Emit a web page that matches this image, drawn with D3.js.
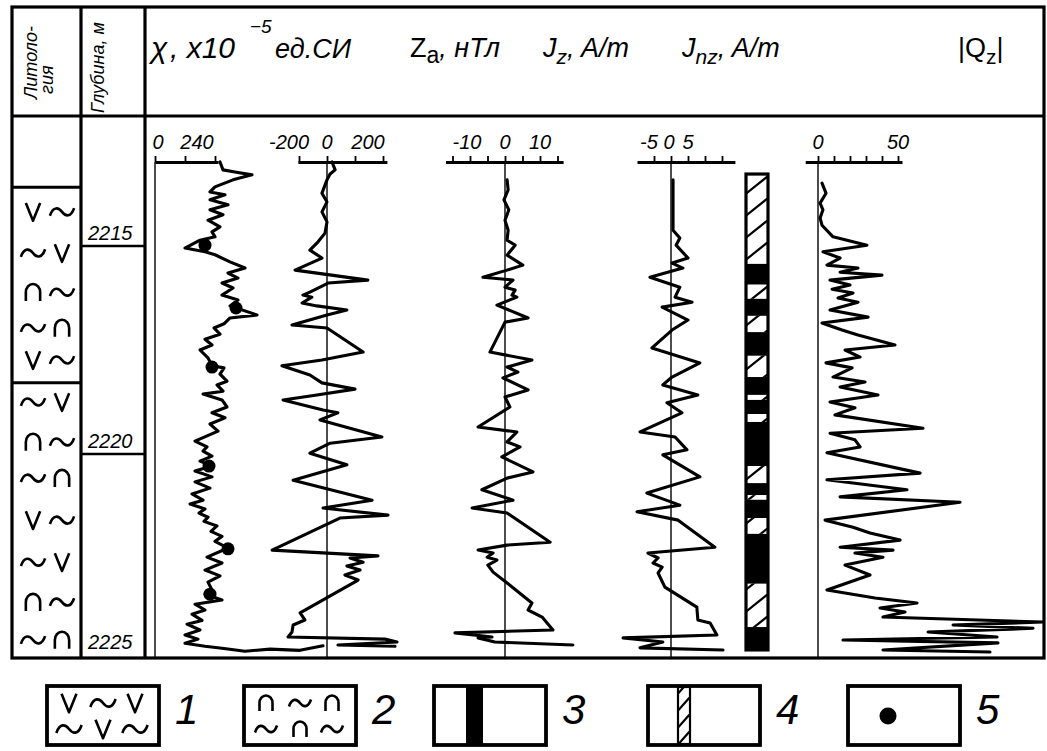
<!DOCTYPE html>
<html><head><meta charset="utf-8">
<script src="https://cdn.jsdelivr.net/npm/d3@7"></script>
<style>
body{margin:0;background:#fff}
svg{display:block}
text{font-family:"Liberation Sans",Arial,sans-serif;fill:#000}
</style>
</head><body>
<svg id="chart" width="1047" height="751"></svg>
<script>
// ---------------- DATA ----------------
// magnetic susceptibility χ, x10^-5 SI
const chiDepth = [2212.98,2213.17,2213.22,2213.29,2213.41,2213.58,2213.70,2213.77,2213.89,2214.01,2214.13,2214.25,2214.38,2214.54,2214.66,2214.78,2214.86,2215.05,2215.14,2215.21,2215.38,2215.53,2215.65,2215.77,2215.89,2216.01,2216.18,2216.30,2216.44,2216.66,2216.73,2216.87,2216.97,2217.12,2217.24,2217.38,2217.50,2217.69,2217.88,2217.93,2218.08,2218.25,2218.34,2218.49,2218.56,2218.70,2218.87,2219.01,2219.13,2219.28,2219.45,2219.69,2219.83,2219.93,2220.05,2220.17,2220.29,2220.41,2220.55,2220.67,2220.82,2220.96,2221.11,2221.20,2221.32,2221.42,2221.52,2221.62,2221.73,2221.86,2221.98,2222.10,2222.26,2222.48,2222.62,2222.79,2222.93,2223.08,2223.27,2223.37,2223.51,2223.61,2223.75,2223.85,2224.00,2224.09,2224.23,2224.35,2224.45,2224.55,2224.62,2224.67,2224.74,2224.69,2224.72,2224.61];
const chiValues = [260,272,320,388,312,240,220,280,220,292,220,272,212,260,228,240,180,120,200,240,300,360,292,332,268,312,268,332,300,408,300,276,236,260,200,228,180,212,228,276,260,288,248,272,192,268,288,228,280,220,252,160,208,192,228,180,228,160,228,160,220,148,192,140,200,176,212,196,248,224,268,240,292,208,268,200,260,212,228,200,268,160,200,148,188,128,180,120,172,120,200,268,360,460,580,672];
// sample points (legend 5)
const pointDepth = [2214.98,2216.49,2217.91,2220.29,2222.28,2223.37];
const pointChi = [200,324,228,216,292,220];

// Za, nT
const zaDepth = [2212.98,2213.17,2213.27,2213.41,2213.73,2213.94,2214.18,2214.42,2214.69,2214.90,2215.10,2215.29,2215.58,2215.82,2215.89,2216.11,2216.18,2216.23,2216.37,2216.44,2216.54,2216.66,2216.90,2216.97,2217.55,2217.74,2217.88,2218.10,2218.29,2218.44,2218.58,2218.70,2218.94,2219.01,2219.18,2219.59,2219.74,2219.98,2220.26,2220.63,2221.11,2221.30,2221.47,2221.54,2222.31,2222.45,2222.50,2222.60,2222.69,2222.79,2222.91,2223.03,2223.82,2223.99,2224.11,2224.28,2224.40,2224.45,2224.52,2224.59,2224.62];
const zaValues = [18,29,11,0,-18,0,-18,0,-7,-32,-61,-18,-114,146,4,-61,-86,-54,-89,-36,71,0,-125,0,129,-18,-161,-61,-18,100,-36,-157,-14,39,-25,196,11,-61,71,-121,161,-14,218,46,-196,182,82,129,71,118,64,111,-96,-79,-121,-125,-139,207,250,39,243];

// Jz, A/m
const jzDepth = [2213.41,2213.65,2213.89,2214.13,2214.38,2214.62,2214.86,2214.98,2215.22,2215.46,2215.58,2215.75,2215.82,2215.99,2216.06,2216.18,2216.23,2216.42,2216.73,2216.83,2217.55,2217.74,2217.91,2218.03,2218.17,2218.46,2218.63,2218.87,2219.35,2219.47,2219.71,2219.83,2220.07,2220.43,2220.58,2220.86,2221.11,2221.30,2221.42,2222.12,2222.19,2222.31,2222.38,2222.48,2222.55,2222.67,2222.84,2223.10,2223.58,2223.75,2223.92,2224.23,2224.30,2224.40,2224.42,2224.52,2224.59];
const jzValues = [0.6,0.9,-0.3,1.1,0,0.9,0.6,2.9,0.6,5.1,0.6,-6.3,2.3,0,2.9,2.0,3.4,-2.3,6.6,0,-4.3,7.7,0.6,3.7,-0.6,6.6,0,1.4,-7.7,3.4,0.6,4.3,-0.9,8.0,0.6,-6.6,2.3,-9.4,0.6,12.9,0.6,-7.7,-3.4,-5.1,-2.3,-4.9,-3.4,0.6,7.7,6.6,10.6,13.7,-14.3,-3.7,-7.7,-2.9,19.4];

// Jnz, A/m
const jnzDepth = [2213.41,2214.62,2214.81,2214.98,2215.29,2215.41,2215.53,2215.75,2215.99,2216.23,2216.35,2216.47,2216.78,2217.02,2217.45,2217.81,2218.15,2218.34,2218.58,2218.77,2219.01,2219.47,2219.59,2219.90,2220.02,2220.55,2220.94,2221.23,2221.39,2221.59,2222.24,2222.38,2222.50,2222.62,2222.72,2222.86,2223.20,2223.68,2223.99,2224.06,2224.35,2224.42,2224.52,2224.66,2224.71];
const jnzValues = [0.6,0.6,2.6,1.5,5.0,0.3,3.5,-6.2,2.6,1.2,6.2,-2.6,5.0,0.3,-5.6,8.5,0.3,-2.4,7.9,-1.2,3.2,-9.1,1.2,4.7,-2.4,8.5,-7.1,2.6,-10,2.1,12.9,-6.8,-3.8,-5.3,-2.6,-3.8,-1.8,7.6,7.9,11.5,13.5,-14.1,-2.4,-9.1,15.3];

// polarity column: boundaries (m) and type (3 = black, 4 = hatched)
const barBounds = [2213.27,2215.43,2215.93,2216.27,2216.68,2217.07,2217.64,2218.15,2218.58,2218.70,2219.04,2219.23,2220.29,2220.70,2220.99,2221.10,2221.54,2221.92,2223.12,2224.16,2224.71];
const barType = ["4","3","4","3","4","3","4","3","4","3","4","3","4","3","4","3","4","3","4","3"];

// |Qz|
const qzDepth = [2213.49,2213.73,2213.97,2214.13,2214.33,2214.50,2214.78,2214.98,2215.14,2215.29,2215.46,2215.53,2215.63,2215.70,2215.82,2215.94,2216.04,2216.13,2216.25,2216.35,2216.54,2216.71,2216.85,2217.02,2217.14,2217.38,2217.50,2217.67,2217.81,2217.93,2218.15,2218.27,2218.39,2218.58,2218.75,2218.89,2219.06,2219.38,2219.50,2219.66,2219.83,2219.97,2220.46,2220.62,2220.86,2221.03,2221.16,2221.59,2221.76,2221.90,2222.07,2222.24,2222.31,2222.38,2222.48,2222.67,2222.91,2223.27,2223.46,2223.58,2223.70,2223.80,2223.92,2224.04,2224.11,2224.19,2224.28,2224.40,2224.47,2224.54,2224.71,2224.76];
const qzValues = [2.5,5.0,1.3,3.1,1.3,2.5,9.4,30.6,3.1,13.8,5.6,25.0,13.8,40.0,7.5,20.0,8.8,21.9,12.5,25.0,7.5,31.3,2.5,15.0,25.0,48.1,16.9,26.3,5.0,21.3,9.4,29.4,13.8,37.5,7.5,23.1,10.6,65.6,7.5,23.1,26.3,5.6,63.8,5.6,55.6,13.8,88.8,4.4,21.9,32.5,51.3,13.8,46.9,23.1,40.6,16.9,32.5,5.6,35.6,61.9,38.8,54.4,40.6,140.6,84.4,134.4,68.8,111.9,15.6,112.5,40.6,107.5];

// lithology
const lithoBounds = [2213.59,2218.29];
const lithoRowDepth = [2214.18,2215.17,2216.11,2216.97,2217.74,2218.75,2219.71,2220.58,2221.59,2222.60,2223.56,2224.47];
const lithoLeft  = ["v","~","n","~","v","~","n","~","v","~","n","~"];
const lithoRight = ["~","v","~","n","~","v","~","n","~","v","~","n"];

// depth ticks
const depthTicks = [2215,2220,2225];

// axis tick values / labels
const chiTicks = [0,120,240],  chiLabels = [0,240];
const zaTicks = [-100,0,100,200], zaLabels = [-200,0,200];
const jzTicks = [-15,-10,-5,0,5,10,15], jzLabels = [-10,0,10];
const jnzTicks = [-5,0,5,10,15], jnzLabels = [-5,0,5];
const qzTicks = [0,10,20,30,40,50], qzLabels = [0,50];

// ---------------- DRAW ----------------
const svg = d3.select("#chart");
const L = 12, R = 1044, T = 7, B = 658, HB = 116, C1 = 81, C2 = 145, AX = 162;

const y = d3.scaleLinear().domain([2212, 2225]).range([121.2, 662]);
const chiX = d3.scaleLinear().domain([0,240]).range([155,215]);
const zaX  = d3.scaleLinear().domain([0,100]).range([327,355]);
const jzX  = d3.scaleLinear().domain([0,10]).range([505,540]);
const jnzX = d3.scaleLinear().domain([0,5]).range([671,688]);
const qzX  = d3.scaleLinear().domain([0,50]).range([818,898]);

const defs = svg.append("defs");
function hatch(id, x0, w, step){
  const p = defs.append("pattern").attr("id",id).attr("patternUnits","userSpaceOnUse")
    .attr("x",x0).attr("y",0).attr("width",w).attr("height",step);
  p.append("rect").attr("width",w).attr("height",step).attr("fill","#fff");
  p.append("path").attr("d",`M0,${step*0.8} L${w},0`).attr("stroke","#000").attr("stroke-width",2.2);
}
hatch("hatchBar", 746, 22, 22);
hatch("hatchLeg", 678, 12, 17);

// frame
const g = svg.append("g").attr("stroke","#000").attr("fill","none");
g.append("rect").attr("x",L).attr("y",T).attr("width",R-L).attr("height",B-T).attr("stroke-width",3.2);
g.append("line").attr("x1",L).attr("x2",R).attr("y1",HB).attr("y2",HB).attr("stroke-width",3.2);
[C1,C2].forEach(x=>g.append("line").attr("x1",x).attr("x2",x).attr("y1",T).attr("y2",B).attr("stroke-width",3.2));
lithoBounds.forEach(d=>g.append("line").attr("x1",L).attr("x2",C1).attr("y1",y(d)).attr("y2",y(d)).attr("stroke-width",3));
depthTicks.filter(d=>d<2225).forEach(d=>g.append("line").attr("x1",C1).attr("x2",C2).attr("y1",y(d)).attr("y2",y(d)).attr("stroke-width",2.6));

// depth labels
svg.selectAll(".dl").data(depthTicks).join("text").attr("class","dl")
  .attr("x",88).attr("y",d=>Math.min(y(d)-6,649))
  .attr("font-size",20).attr("font-style","italic").text(d=>d);

// header texts
function rotText(txt,x,yb,size){
  svg.append("text").attr("transform",`translate(${x},${yb}) rotate(-90)`)
    .attr("font-size",size).attr("font-style","italic").text(txt);
}
rotText("Литоло-",37,99,18);
rotText("гия",53,94,18);
rotText("Глубина, м",104,113,18);

const hdr = svg.append("g").attr("font-style","italic");
hdr.append("text").attr("x",151).attr("y",58).attr("font-size",30).attr("font-family","'DejaVu Serif','Liberation Serif',serif").text("χ");
hdr.append("text").attr("x",170).attr("y",58).attr("font-size",30).attr("font-family","'Liberation Serif',serif").text(", x10");
hdr.append("text").attr("x",250).attr("y",33).attr("font-size",19).attr("font-family","'Liberation Serif',serif").text("−5");
hdr.append("text").attr("x",275).attr("y",58).attr("font-size",27).text("ед.СИ");
const za = hdr.append("text").attr("x",410).attr("y",57).attr("font-size",27).attr("font-style","normal");
za.append("tspan").text("Z"); za.append("tspan").attr("dy",6).attr("font-size",23).text("a");
za.append("tspan").attr("dy",-6).attr("font-style","italic").text(", нТл");
const jz = hdr.append("text").attr("x",543).attr("y",57).attr("font-size",27);
jz.append("tspan").text("J"); jz.append("tspan").attr("dy",7).attr("font-size",21).text("z");
jz.append("tspan").attr("dy",-7).text(", A/m");
const jnz = hdr.append("text").attr("x",682).attr("y",57).attr("font-size",27);
jnz.append("tspan").text("J"); jnz.append("tspan").attr("dy",7).attr("font-size",21).text("nz");
jnz.append("tspan").attr("dy",-7).text(", A/m");
const qz = svg.append("text").attr("x",958).attr("y",57).attr("font-size",27);
qz.append("tspan").text("|Q"); qz.append("tspan").attr("dy",7).attr("font-size",21).text("z");
qz.append("tspan").attr("dy",-7).text("|");

// axes
function drawAxis(scale, lo, hi, ticks, labels, labelDx){
  const s = scale.copy().domain([lo,hi]).range([scale(lo),scale(hi)]);
  const a = svg.append("g").attr("transform",`translate(0,${AX})`)
    .call(d3.axisTop(s).tickValues(ticks).tickSize(6).tickSizeOuter(0).tickFormat(""));
  a.select(".domain").attr("stroke","#000").attr("stroke-width",3.2);
  a.selectAll(".tick line").attr("stroke","#000").attr("stroke-width",1.8);
  svg.selectAll(null).data(labels).join("text")
    .attr("x",(d,i)=>scale(d)+labelDx[i]).attr("y",AX-13)
    .attr("text-anchor","middle").attr("font-size",20).attr("font-style","italic").text(d=>d);
  svg.append("line").attr("x1",scale(0)).attr("x2",scale(0)).attr("y1",AX).attr("y2",B)
    .attr("stroke","#000").attr("stroke-width",1.4);
}
drawAxis(chiX, 0, 252, chiTicks, chiLabels, [3,-18]);
drawAxis(zaX, -104, 214, zaTicks, zaLabels, [18,0,-15]);
drawAxis(jzX, -17, 16.6, jzTicks, jzLabels, [-3,0,0]);
drawAxis(jnzX, -10, 18.8, jnzTicks, jnzLabels, [-5,-2,0]);
drawAxis(qzX, -8, 52.5, qzTicks, qzLabels, [0,0]);

// curves
function curve(depths, vals, xs){
  const pts = depths.map((d,i)=>[xs(vals[i]), y(d)]);
  svg.append("path").attr("d", d3.line()(pts)).attr("fill","none").attr("stroke","#000")
    .attr("stroke-width",3.1).attr("stroke-linejoin","round").attr("stroke-linecap","round");
}
curve(chiDepth, chiValues, chiX);
curve(zaDepth, zaValues, zaX);
curve(jzDepth, jzValues, jzX);
curve(jnzDepth, jnzValues, jnzX);
curve(qzDepth, qzValues, qzX);

// sample points
svg.selectAll(".pt").data(pointDepth).join("circle").attr("class","pt")
  .attr("cx",(d,i)=>chiX(pointChi[i])).attr("cy",d=>y(d)).attr("r",6.5).attr("fill","#000");

// polarity column
const segs = barType.map((t,i)=>({t, a:barBounds[i], b:barBounds[i+1]}));
svg.selectAll(".seg").data(segs).join("rect").attr("class","seg")
  .attr("x",746).attr("width",22).attr("y",d=>y(d.a)).attr("height",d=>y(d.b)-y(d.a))
  .attr("fill",d=>d.t==="3"?"#000":"url(#hatchBar)");
svg.append("rect").attr("x",746).attr("width",22).attr("y",y(barBounds[0]))
  .attr("height",y(barBounds[barBounds.length-1])-y(barBounds[0]))
  .attr("fill","none").attr("stroke","#000").attr("stroke-width",3.2);

// lithology symbols
function sym(parent, type, cx, cy, s){
  s = s||1;
  let d;
  if(type==="v") d=`M${cx-6.5*s},${cy-8*s} L${cx},${cy+8*s} L${cx+6.5*s},${cy-8*s}`;
  else if(type==="n") d=`M${cx-6.5*s},${cy+8*s} L${cx-6.5*s},${cy} A${6.5*s},${7.5*s} 0 0 1 ${cx+6.5*s},${cy} L${cx+6.5*s},${cy+8*s}`;
  else d=`M${cx-11*s},${cy+3.5*s} C${cx-8*s},${cy-5.5*s} ${cx-3*s},${cy-4*s} ${cx},${cy} C${cx+3*s},${cy+4*s} ${cx+8*s},${cy+5.5*s} ${cx+11*s},${cy-3.5*s}`;
  parent.append("path").attr("d",d).attr("fill","none").attr("stroke","#000").attr("stroke-width",2.6)
    .attr("stroke-linejoin","round");
}
const lg = svg.append("g");
lithoRowDepth.forEach((d,i)=>{
  sym(lg, lithoLeft[i], 33, y(d), 1.1);
  sym(lg, lithoRight[i], 62, y(d), 1.1);
});

// legend
const legX = [47,244,434,648,848];
const legNum = ["1","2","3","4","5"];
const lt = 686, lb = 745;
legX.forEach((x,i)=>{
  svg.append("rect").attr("x",x).attr("y",lt).attr("width",112).attr("height",lb-lt)
    .attr("fill","none").attr("stroke","#000").attr("stroke-width",3.8);
  svg.append("text").attr("x",x+128).attr("y",724).attr("font-size",42).attr("font-style","italic")
    .attr("font-family","'Liberation Sans Narrow','DejaVu Sans Condensed',sans-serif").text(legNum[i]);
});
const r1 = ["v","~","v"], r2 = ["~","v","~"], r3 = ["n","~","n"], r4 = ["~","n","~"];
[22,56,88].forEach((dx,k)=>{
  sym(svg, r1[k], legX[0]+dx, 703, 1.15); sym(svg, r2[k], legX[0]+dx, 729, 1.15);
  sym(svg, r3[k], legX[1]+dx, 703, 1.0); sym(svg, r4[k], legX[1]+dx, 729, 1.0);
});
svg.append("rect").attr("x",466).attr("y",lt).attr("width",17).attr("height",lb-lt).attr("fill","#000");
svg.append("rect").attr("x",678).attr("y",lt+1).attr("width",12).attr("height",lb-lt-2)
  .attr("fill","url(#hatchLeg)").attr("stroke","#000").attr("stroke-width",2.2);
svg.append("circle").attr("cx",888).attr("cy",716).attr("r",8.5).attr("fill","#000");
</script>
</body></html>
